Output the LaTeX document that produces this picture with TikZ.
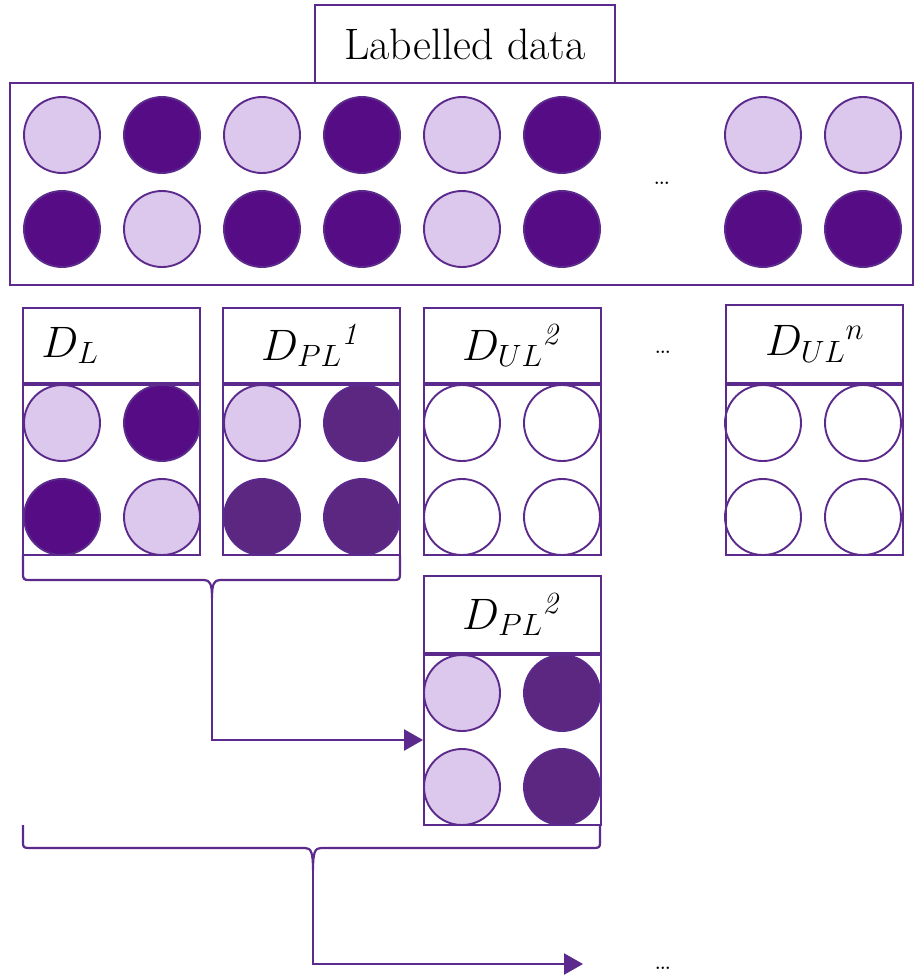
\RequirePackage{fix-cm}
\documentclass[tikz,border=0pt]{standalone}
\usepackage{amsmath}
\usetikzlibrary{arrows.meta}

\definecolor{edgec}{RGB}{91,42,140}
\definecolor{lite}{RGB}{220,200,236}
\definecolor{dark}{RGB}{86,12,133}
\definecolor{pseudo}{RGB}{91,39,129}

\tikzset{
  frame/.style={draw=edgec, line width=1.9pt, inner sep=0pt},
  head/.style={frame, minimum width=177pt, minimum height=75pt, font=\fontsize{44}{48}\selectfont},
  body/.style={frame, minimum width=177pt, minimum height=170pt},
  ball/.style={circle, draw=edgec, line width=1.9pt, minimum size=76pt, inner sep=0pt},
  lt/.style={ball, fill=lite},
  dk/.style={ball, fill=dark},
  ps/.style={ball, fill=pseudo},
  em/.style={ball, fill=white},
  flow/.style={draw=edgec, line width=2.2pt, -{Triangle[length=19pt,width=21pt]}},
  curly/.style={draw=edgec, line width=2.2pt},
  more/.style={font=\fontsize{30}{32}\selectfont, inner sep=0pt},
}

\begin{document}
\begin{tikzpicture}[x=1pt,y=1pt,yscale=-1]
\useasboundingbox (0,0) rectangle (915,975);

%Shape: Rectangle [pool of labelled data]
\node[frame, minimum width=903pt, minimum height=202pt] (pool) at (461.5,184) {};
\node[frame, minimum width=300pt, minimum height=78pt, font=\fontsize{44}{48}\selectfont] (title) at (465,44) {Labelled data};
\foreach \x/\a/\b [count=\i] in {62/lt/dk, 162/dk/lt, 262/lt/dk, 362/dk/dk, 462/lt/lt, 562/dk/dk, 763/lt/dk, 863/lt/dk}
{
  \node[\a] (pa-\i) at (\x,135) {};
  \node[\b] (pb-\i) at (\x,229) {};
}
\node[more] (more1) at (662,183) {\dots};

%Circles of the subsets
\node[lt] (dl-1) at (62,423) {};
\node[dk] (dl-2) at (162,423) {};
\node[dk] (dl-3) at (62,517) {};
\node[lt] (dl-4) at (162,517) {};
\node[lt] (pl-1) at (262,423) {};
\node[ps] (pl-2) at (362,423) {};
\node[ps] (pl-3) at (262,517) {};
\node[ps] (pl-4) at (362,517) {};
\foreach \x/\n in {462/ul, 763/un}
{
  \node[em] (\n-1) at (\x,423) {};
  \node[em] (\n-2) at (\x+100,423) {};
  \node[em] (\n-3) at (\x,517) {};
  \node[em] (\n-4) at (\x+100,517) {};
}
\node[lt] (pq-1) at (462,693) {};
\node[ps] (pq-2) at (562,693) {};
\node[lt] (pq-3) at (462,787) {};
\node[ps] (pq-4) at (562,787) {};

%Shape: Rectangle [subsets]
\node[body] (dl-b) at (111.5,470) {};
\node[head, anchor=south, align=left, text width=140pt] (dl-h) at (dl-b.north) {$D_{L}$};
\node[body] (pl-b) at (311.5,470) {};
\node[head, anchor=south] (pl-h) at (pl-b.north) {$D_{PL}{}^{\mathit{1}}$};
\node[body] (ul-b) at (512.5,470) {};
\node[head, anchor=south] (ul-h) at (ul-b.north) {$D_{UL}{}^{\mathit{2}}$};
\node[body] (un-b) at (814.5,470) {};
\node[head, anchor=south, minimum height=78pt] (un-h) at (un-b.north) {$D_{UL}{}^{n}$};
\node[more] (more2) at (663,352) {\dots};
\node[body] (pq-b) at (512.5,740) {};
\node[head, anchor=south, minimum height=77pt] (pq-h) at (pq-b.north) {$D_{PL}{}^{\mathit{2}}$};

%Shape: Brace
\coordinate (tip1) at (212,598);
\draw[curly] (23,555) -- (23,574) .. controls (23,579) and (24,580) .. (29,580) -- (204,580)
  .. controls (210,580) and (212,584) .. (tip1) .. controls (212,584) and (214,580) .. (220,580)
  -- (394,580) .. controls (399,580) and (400,579) .. (400,574) -- (400,555);
\coordinate (tip2) at (313,870);
\draw[curly] (23,825) -- (23,843) .. controls (23,847) and (24,848) .. (29,848) -- (305,848)
  .. controls (311,848) and (313,852) .. (tip2) .. controls (313,852) and (315,848) .. (321,848)
  -- (594,848) .. controls (599,848) and (600,847) .. (600,843) -- (600,825);

%Straight Lines [arrows]
\draw[flow] (tip1) |- (pq-b.west);
\coordinate (end2) at (583,964);
\draw[flow] (tip2) |- (end2);
\node[more] (more3) at (663,968) {\dots};

\end{tikzpicture}
\end{document}
